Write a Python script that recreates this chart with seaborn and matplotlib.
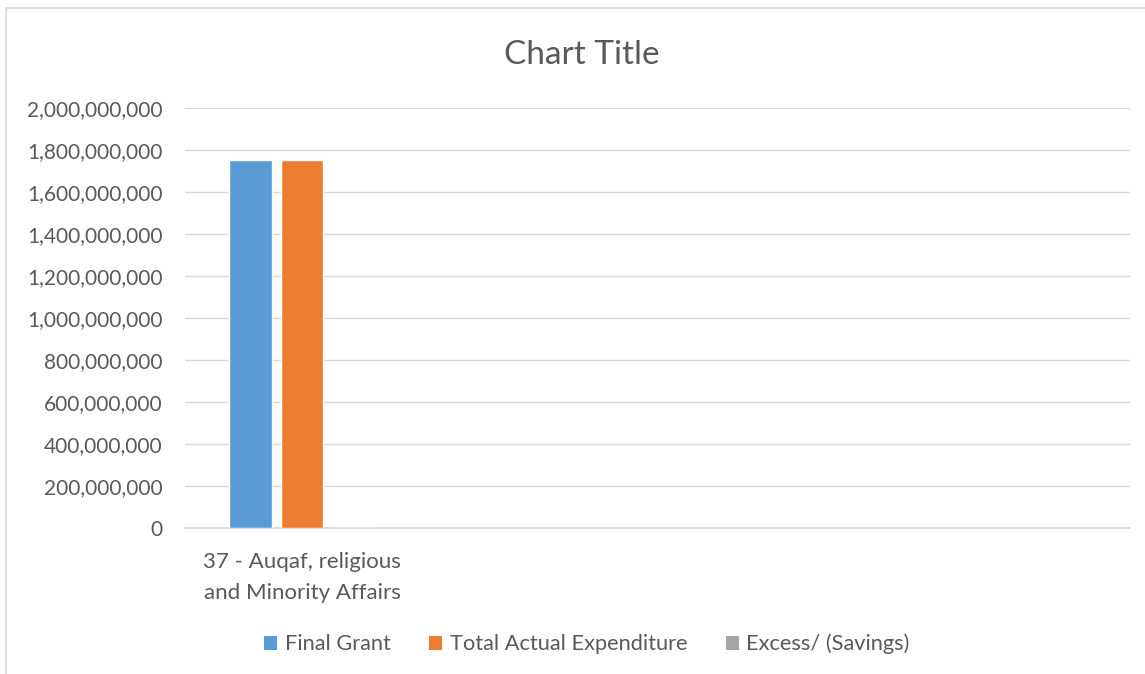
import matplotlib
matplotlib.use("Agg")
import matplotlib.pyplot as plt
import seaborn as sns
import pandas as pd
from matplotlib.lines import Line2D
from matplotlib.patches import Patch
from matplotlib.ticker import FuncFormatter

# Data
categories = ["37 - Auqaf, religious\nand Minority Affairs"]
series_names = ["Final Grant", "Total Actual Expenditure", "Excess/ (Savings)"]
final_grant = [1752000000]
actual_expenditure = [1751000000]
excess_savings = [-1000000]
colors = ["#5b9bd5", "#ed7d31", "#a5a5a5"]

rows = []
for name, vals in zip(series_names, [final_grant, actual_expenditure, excess_savings]):
    for cat, v in zip(categories, vals):
        rows.append({"category": cat, "series": name, "value": v})
df = pd.DataFrame(rows)

sns.set_theme(style="white")
plt.rcParams["font.family"] = ["Lato", "DejaVu Sans"]
text_color = "#595959"
grid_color = "#d9d9d9"

W, H = 1145, 674
fig = plt.figure(figsize=(W / 100, H / 100), dpi=100)
fig.patch.set_facecolor("white")

left, right, top, bottom = 185, 1130, 108, 528
ax = fig.add_axes([left / W, 1 - bottom / H, (right - left) / W, (bottom - top) / H])

sns.barplot(data=df, x="category", y="value", hue="series", hue_order=series_names,
            palette=colors, width=0.655, gap=0.175, saturation=1, ax=ax,
            legend=False, errorbar=None)

ax.set_xlim(-0.495, 3.5)
ax.set_ylim(0, 2000000000)
ax.set_yticks(range(0, 2000000001, 200000000))
ax.yaxis.set_major_formatter(FuncFormatter(lambda v, p: f"{int(v):,}"))
ax.grid(axis="y", color=grid_color, linewidth=1.0)
ax.grid(axis="x", visible=False)
ax.axhline(0, color=grid_color, linewidth=1.2, clip_on=False, zorder=0.5)
ax.set_axisbelow(True)
for s in ax.spines.values():
    s.set_visible(False)
ax.tick_params(axis="y", length=0, pad=16, labelsize=15, labelcolor=text_color)
ax.tick_params(axis="x", length=0, pad=17, labelsize=16, labelcolor=text_color)
for lbl in ax.get_xticklabels():
    lbl.set_linespacing(1.7)
ax.set_xlabel("")
ax.set_ylabel("")

fig.text(582 / W, 1 - 55 / H, "Chart Title", ha="center", va="center",
         fontsize=24, color=text_color)

handles = [Patch(facecolor=c, edgecolor="none") for c in colors]
fig.legend(handles, series_names, loc="center", bbox_to_anchor=(587 / W, 1 - 644 / H),
           ncol=3, frameon=False, fontsize=15.7, labelcolor=text_color,
           handlelength=0.6, handleheight=0.6, handletextpad=0.35, columnspacing=1.75)

# chart-area border (left and top edges)
fig.add_artist(Line2D([6 / W, 6 / W], [0, 1 - 8 / H], color=grid_color, linewidth=1.2,
                      transform=fig.transFigure))
fig.add_artist(Line2D([6 / W, 1], [1 - 8 / H, 1 - 8 / H], color=grid_color, linewidth=1.2,
                      transform=fig.transFigure))

fig.savefig("out.png", dpi=100)
